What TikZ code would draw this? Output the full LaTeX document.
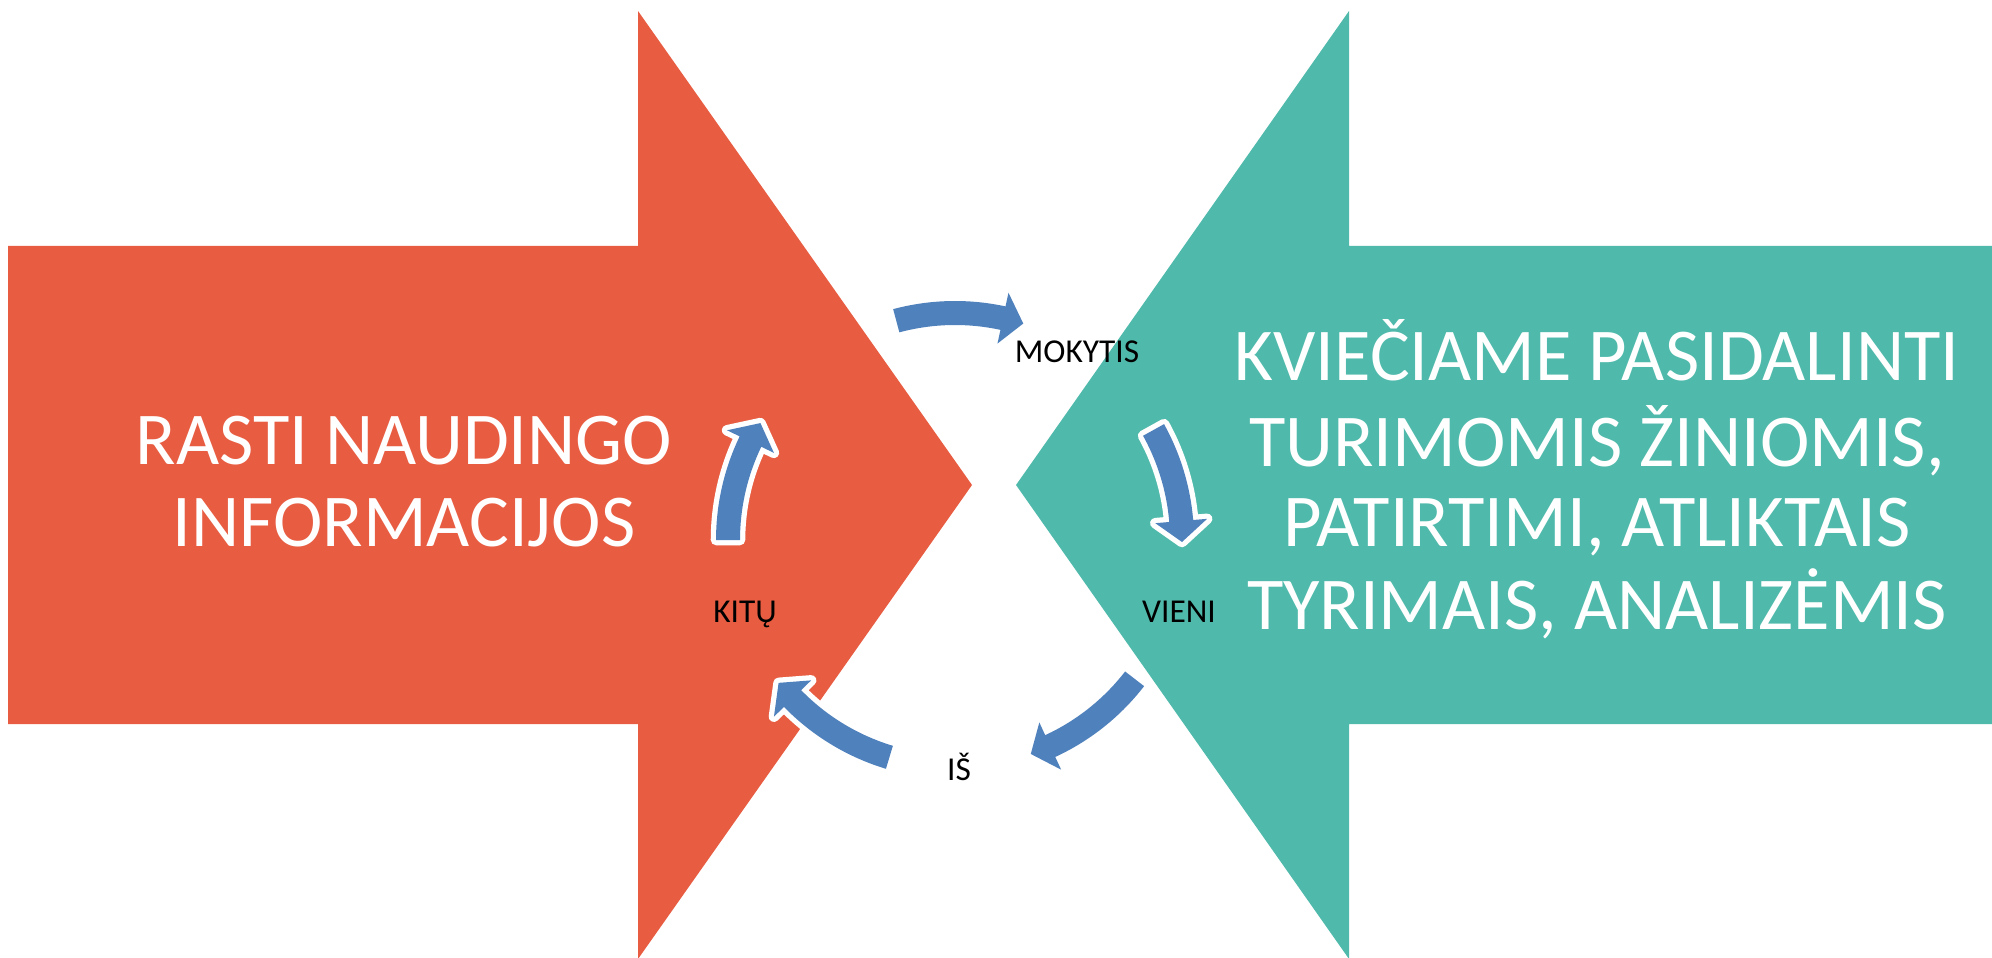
\documentclass[tikz,border=0pt]{standalone}
\usepackage{fontspec}
\setmainfont{Carlito}
\definecolor{orangeA}{HTML}{E85D42}
\definecolor{tealA}{HTML}{4FBAAB}
\definecolor{blueA}{HTML}{4F81BD}
\tikzset{
  bigline/.style={text=white, font=\fontsize{21.2}{24}\selectfont, anchor=base, inner sep=0pt},
  cyclabel/.style={text=black, font=\fontsize{9.5}{11}\selectfont, anchor=base, inner sep=0pt},
  cyc/.style={fill=blueA, preaction={draw=white, line width=3pt, line join=round}}
}
\newcommand\cyclearrow[2]{%
  \pgfmathsetmacro\hb{#2+5.3}%
  \fill[cyc, shift={(955,417)}]
    plot[domain=#1:\hb, samples=30] (\x:239) -- (\hb:253) -- (#2:227) -- (\hb:201) --
    plot[domain=\hb:#1, samples=30] (\x:215) -- cycle;
}
\begin{document}
\begin{tikzpicture}[x=0.01cm,y=0.01cm]
\useasboundingbox (0,0) rectangle (1992,957);
\clip (0,0) rectangle (1992,957);
% big arrows
\fill[orangeA] (8,711) -- (638,711) -- (638,946) -- (972,472) -- (638,-2) -- (638,233) -- (8,233) -- cycle;
\fill[tealA] (2000,711) -- (1349,711) -- (1349,946) -- (1016,472) -- (1349,-2) -- (1349,233) -- (2000,233) -- cycle;
% big texts
\node[bigline] (l1) at (404,492) {RASTI NAUDINGO};
\node[bigline] (l2) at (404,411) {INFORMACIJOS};
\node[bigline] (r1) at (1597,576) {KVIEČIAME PASIDALINTI};
\node[bigline] (r2) at (1597,491) {TURIMOMIS ŽINIOMIS,};
\node[bigline] (r3) at (1597,411) {PATIRTIMI, ATLIKTAIS};
\node[bigline] (r4) at (1597,328) {TYRIMAIS, ANALIZĖMIS};
% cycle arrows
\cyclearrow{105}{72.5}
\cyclearrow{29}{-0.5}
\cyclearrow{-37.7}{-70.5}
\cyclearrow{-106.8}{-141}
\cyclearrow{180}{149}
% labels
\node[cyclabel] (mok) at (1077,594) {MOKYTIS};
\node[cyclabel] (vie) at (1179,335) {VIENI};
\node[cyclabel] (is) at (959,177) {IŠ};
\node[cyclabel] (kit) at (745,335) {KITŲ};
\end{tikzpicture}
\end{document}
